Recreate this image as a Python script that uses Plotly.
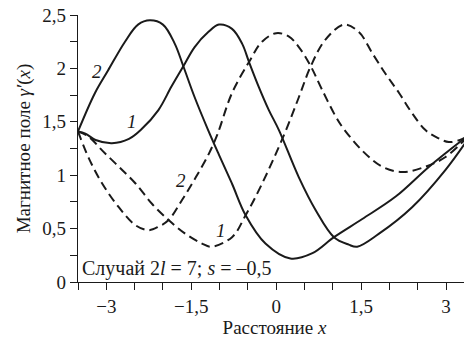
import plotly.graph_objects as go

# Values
solid1_x = [-3.5, -3.37, -3.19, -2.9, -2.6, -2.38, -2.08, -1.85, -1.64, -1.44, -1.2, -1.01, -0.78, -0.6,
            -0.48, -0.31, -0.13, 0.05, 0.4, 0.7, 1.02, 1.28, 1.43, 1.81, 2.4, 2.99, 3.44]
solid1_y = [1.41, 1.39, 1.33, 1.30, 1.34, 1.43, 1.61, 1.83, 2.02, 2.20, 2.34, 2.41, 2.37, 2.23,
            2.06, 1.83, 1.61, 1.42, 0.98, 0.67, 0.42, 0.35, 0.33, 0.45, 0.70, 1.05, 1.38]

solid2_x = [-3.5, -3.2, -2.97, -2.67, -2.44, -2.23, -2.0, -1.79, -1.64, -1.44, -1.2, -1.01,
            -0.78, -0.54, -0.19, 0.25, 0.64, 1.02, 1.52, 2.11, 2.7, 3.29, 3.44]
solid2_y = [1.41, 1.77, 1.98, 2.25, 2.41, 2.45, 2.41, 2.23, 2.02, 1.73, 1.42, 1.19,
            0.92, 0.625, 0.36, 0.22, 0.27, 0.42, 0.59, 0.80, 1.08, 1.33, 1.39]

dashed1_x = [-3.5, -3.31, -3.07, -2.78, -2.48, -2.19, -1.9, -1.6, -1.31, -1.15, -0.78, -0.54, -0.25,
             0.14, 0.4, 0.61, 0.87, 1.2, 1.46, 1.7, 1.93, 2.17, 2.4, 2.64, 2.85, 3.05, 3.29, 3.44]
dashed1_y = [1.41, 1.36, 1.23, 1.08, 0.92, 0.73, 0.58, 0.45, 0.36, 0.33, 0.42, 0.625, 0.92,
             1.38, 1.73, 2.02, 2.27, 2.41, 2.34, 2.14, 1.95, 1.77, 1.58, 1.42, 1.35, 1.31, 1.34, 1.39]

dashed2_x = [-3.5, -3.31, -3.07, -2.78, -2.48, -2.25, -2.07, -1.9, -1.66, -1.42, -1.19, -1.04, -0.78,
             -0.48, -0.25, 0.0, 0.22, 0.4, 0.61, 0.81, 1.05, 1.17, 1.52, 1.87, 2.23, 2.64, 2.99,
             3.29, 3.44]
dashed2_y = [1.41, 1.16, 0.92, 0.70, 0.53, 0.485, 0.52, 0.58, 0.77, 0.98, 1.20, 1.38, 1.77,
             2.06, 2.25, 2.33, 2.30, 2.20, 2.02, 1.80, 1.55, 1.45, 1.23, 1.08, 1.03, 1.08, 1.17,
             1.31, 1.39]

x_ticks = [-3, -1.5, 0, 1.5, 3]
x_tick_text = ["\u22123", "\u22121,5", "0", "1,5", "3"]
y_ticks = [0, 0.5, 1, 1.5, 2, 2.5]
y_tick_text = ["0", "0,5", "1", "1,5", "2", "2,5"]

# curve labels: (text, x, y)
curve_labels = [("2", -3.16, 1.97), ("1", -2.55, 1.50), ("2", -1.69, 0.95), ("1", -0.98, 0.48)]

ink = "#1a1a1a"
font = "serif"

fig = go.Figure()
for xs, ys, dash in [(solid1_x, solid1_y, "solid"), (solid2_x, solid2_y, "solid"),
                     (dashed1_x, dashed1_y, "9px,5px"), (dashed2_x, dashed2_y, "9px,5px")]:
    fig.add_trace(go.Scatter(x=xs, y=ys, mode="lines",
                             line=dict(color=ink, width=2, dash=dash, shape="spline", smoothing=1),
                             showlegend=False, hoverinfo="skip"))

for txt, lx, ly in curve_labels:
    fig.add_annotation(x=lx, y=ly, text=f"<i>{txt}</i>", showarrow=False,
                       font=dict(family=font, size=19, color=ink))

fig.add_annotation(xref="paper", x=0.005, xanchor="left", y=0.13, yanchor="middle",
                   text="Случай 2<i>l</i> = 7; <i>s</i> = \u20130,5", showarrow=False,
                   font=dict(family=font, size=20, color=ink))

axis_common = dict(showline=True, linecolor=ink, linewidth=1.3, showgrid=False, zeroline=False,
                   automargin=False, ticklabeloverflow="allow",
                   ticks="outside", ticklen=7, tickwidth=1.2, tickcolor=ink,
                   tickfont=dict(family=font, size=19, color=ink))

fig.update_xaxes(range=[-3.5, 3.44], tickvals=x_ticks, ticktext=x_tick_text,
                 minor=dict(dtick=0.5, tick0=0, ticks="outside", ticklen=7, tickwidth=1.2, tickcolor=ink),
                 title=dict(text="Расстояние <i>x</i>", font=dict(family=font, size=19, color=ink), standoff=2),
                 **axis_common)
fig.update_yaxes(range=[0, 2.5], tickvals=y_ticks, ticktext=y_tick_text,
                 minor=dict(dtick=0.25, tick0=0, ticks="outside", ticklen=7, tickwidth=1.2, tickcolor=ink),
                 title=dict(text="Магнитное поле <i>\u03b3\u2032</i>(<i>x</i>)",
                            font=dict(family=font, size=19, color=ink), standoff=6),
                 **axis_common)

# the page body adds an 8px offset, so the figure is 8px smaller than the window
fig.update_layout(template="none", width=464, height=335, margin=dict(l=70, r=1, t=7, b=61),
                  plot_bgcolor="white", paper_bgcolor="white", font=dict(family=font, color=ink))

fig.write_html("out.html")
